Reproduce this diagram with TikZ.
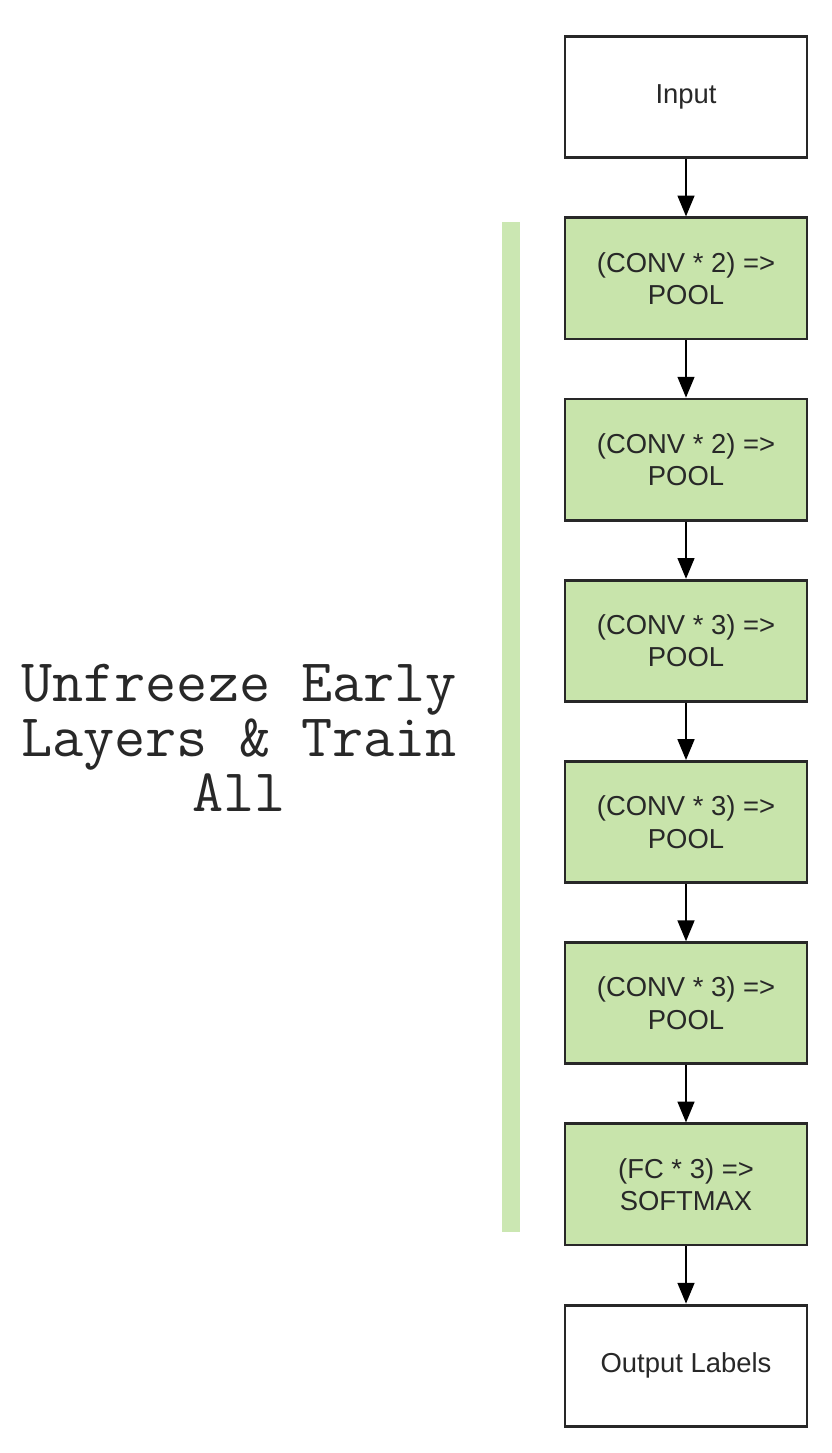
\documentclass[tikz,border=0pt]{standalone}
\usepackage{fontspec}
\setmainfont{Liberation Sans}
\usetikzlibrary{arrows.meta, positioning}
\definecolor{layergreen}{RGB}{200,228,171}
\definecolor{bargreen}{RGB}{203,231,178}
\definecolor{inkgray}{RGB}{40,40,40}
\tikzset{
  blk/.style={
    rectangle, draw=inkgray, line width=2pt,
    minimum width=6.05cm, minimum height=3.03cm,
    align=center, fill=white, text=inkgray,
    font=\fontsize{19.5}{23}\selectfont
  },
  gblk/.style = {blk, fill=layergreen},
  arr/.style  = {-{Triangle[length=5.2mm, width=4.2mm]}, line width=1.4pt, draw=black},
  bar/.style  = {rectangle, fill=bargreen, minimum width=0.45cm, minimum height=25.25cm, inner sep=0pt},
  note/.style = {font=\ttfamily\fontsize{43}{39}\selectfont, align=center, text=inkgray},
}

\begin{document}
\begin{tikzpicture}
\useasboundingbox (0,0) rectangle (20.775,-36.325);

%% ── Layer stack ─────────────────────────────────────────────────────────────
\node[blk]  (INP) at (17.15, -2.43) {Input};
\node[gblk] (L1) [below=1.43cm of INP] {(CONV * 2) =>\\POOL};
\node[gblk] (L2) [below=1.43cm of L1]  {(CONV * 2) =>\\POOL};
\node[gblk] (L3) [below=1.43cm of L2]  {(CONV * 3) =>\\POOL};
\node[gblk] (L4) [below=1.43cm of L3]  {(CONV * 3) =>\\POOL};
\node[gblk] (L5) [below=1.43cm of L4]  {(CONV * 3) =>\\POOL};
\node[gblk] (FC) [below=1.43cm of L5]  {(FC * 3) =>\\SOFTMAX};
\node[blk]  (OUT) [below=1.43cm of FC] {Output Labels};

%% ── Arrows between layers ───────────────────────────────────────────────────
\draw[arr] (INP.south) -- (L1.north);
\draw[arr] (L1.south)  -- (L2.north);
\draw[arr] (L2.south)  -- (L3.north);
\draw[arr] (L3.south)  -- (L4.north);
\draw[arr] (L4.south)  -- (L5.north);
\draw[arr] (L5.south)  -- (FC.north);
\draw[arr] (FC.south)  -- (OUT.north);

%% ── Trainable range bar + note ──────────────────────────────────────────────
\node[bar]  (BAR)  at (12.78, -18.18) {};
\node[note] (NOTE) at (5.98, -18.45) {Unfreeze Early\\Layers \& Train\\All};

\end{tikzpicture}
\end{document}
